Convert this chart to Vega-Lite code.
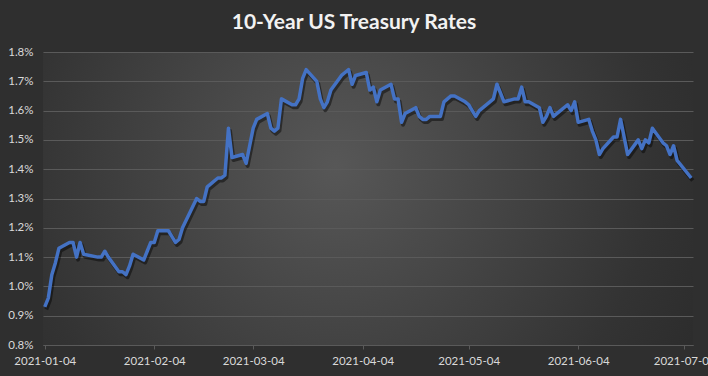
{
  "$schema": "https://vega.github.io/schema/vega-lite/v6.json",
  "width": 650,
  "height": 293,
  "autosize": {"type": "none"},
  "padding": {"left": 43, "top": 52, "right": 15, "bottom": 31},
  "background": "#2f2f2f",
  "title": {
    "text": "10-Year US Treasury Rates",
    "font": "Lato",
    "fontSize": 21,
    "fontWeight": "bold",
    "color": "#f2f2f2",
    "anchor": "middle",
    "dx": -14,
    "offset": 13
  },
  "config": {
    "view": {
      "stroke": null,
      "fill": {
        "gradient": "radial",
        "x1": 0.45, "y1": 0.45, "r1": 0,
        "x2": 0.45, "y2": 0.45, "r2": 0.75,
        "stops": [
          {"offset": 0, "color": "#575757"},
          {"offset": 0.65, "color": "#333333"},
          {"offset": 1, "color": "#262626"}
        ]
      }
    },
    "axis": {
      "labelFont": "Lato",
      "labelFontSize": 11.5,
      "labelColor": "#d9d9d9",
      "title": null
    }
  },
  "data": {
    "values": [
      {"d": "2021-01-04", "v": 0.93}, {"d": "2021-01-05", "v": 0.96}, {"d": "2021-01-06", "v": 1.04},
      {"d": "2021-01-07", "v": 1.08}, {"d": "2021-01-08", "v": 1.13}, {"d": "2021-01-11", "v": 1.15},
      {"d": "2021-01-12", "v": 1.15}, {"d": "2021-01-13", "v": 1.10}, {"d": "2021-01-14", "v": 1.15},
      {"d": "2021-01-15", "v": 1.11}, {"d": "2021-01-19", "v": 1.10}, {"d": "2021-01-20", "v": 1.10},
      {"d": "2021-01-21", "v": 1.12}, {"d": "2021-01-22", "v": 1.10}, {"d": "2021-01-25", "v": 1.05},
      {"d": "2021-01-26", "v": 1.05}, {"d": "2021-01-27", "v": 1.04}, {"d": "2021-01-28", "v": 1.07},
      {"d": "2021-01-29", "v": 1.11}, {"d": "2021-02-01", "v": 1.09}, {"d": "2021-02-02", "v": 1.12},
      {"d": "2021-02-03", "v": 1.15}, {"d": "2021-02-04", "v": 1.15}, {"d": "2021-02-05", "v": 1.19},
      {"d": "2021-02-08", "v": 1.19}, {"d": "2021-02-09", "v": 1.17}, {"d": "2021-02-10", "v": 1.15},
      {"d": "2021-02-11", "v": 1.16}, {"d": "2021-02-12", "v": 1.20}, {"d": "2021-02-16", "v": 1.30},
      {"d": "2021-02-17", "v": 1.29}, {"d": "2021-02-18", "v": 1.29}, {"d": "2021-02-19", "v": 1.34},
      {"d": "2021-02-22", "v": 1.37}, {"d": "2021-02-23", "v": 1.37}, {"d": "2021-02-24", "v": 1.38},
      {"d": "2021-02-25", "v": 1.54}, {"d": "2021-02-26", "v": 1.44}, {"d": "2021-03-01", "v": 1.45},
      {"d": "2021-03-02", "v": 1.42}, {"d": "2021-03-03", "v": 1.48}, {"d": "2021-03-04", "v": 1.54},
      {"d": "2021-03-05", "v": 1.57}, {"d": "2021-03-08", "v": 1.59}, {"d": "2021-03-09", "v": 1.54},
      {"d": "2021-03-10", "v": 1.53}, {"d": "2021-03-11", "v": 1.54}, {"d": "2021-03-12", "v": 1.64},
      {"d": "2021-03-15", "v": 1.62}, {"d": "2021-03-16", "v": 1.62}, {"d": "2021-03-17", "v": 1.64},
      {"d": "2021-03-18", "v": 1.71}, {"d": "2021-03-19", "v": 1.74}, {"d": "2021-03-22", "v": 1.70},
      {"d": "2021-03-23", "v": 1.64}, {"d": "2021-03-24", "v": 1.61}, {"d": "2021-03-25", "v": 1.63},
      {"d": "2021-03-26", "v": 1.67}, {"d": "2021-03-29", "v": 1.72}, {"d": "2021-03-30", "v": 1.73},
      {"d": "2021-03-31", "v": 1.74}, {"d": "2021-04-01", "v": 1.69}, {"d": "2021-04-02", "v": 1.72},
      {"d": "2021-04-05", "v": 1.73}, {"d": "2021-04-06", "v": 1.67}, {"d": "2021-04-07", "v": 1.68},
      {"d": "2021-04-08", "v": 1.63}, {"d": "2021-04-09", "v": 1.67}, {"d": "2021-04-12", "v": 1.69},
      {"d": "2021-04-13", "v": 1.64}, {"d": "2021-04-14", "v": 1.64}, {"d": "2021-04-15", "v": 1.56},
      {"d": "2021-04-16", "v": 1.59}, {"d": "2021-04-19", "v": 1.61}, {"d": "2021-04-20", "v": 1.58},
      {"d": "2021-04-21", "v": 1.57}, {"d": "2021-04-22", "v": 1.57}, {"d": "2021-04-23", "v": 1.58},
      {"d": "2021-04-26", "v": 1.58}, {"d": "2021-04-27", "v": 1.63}, {"d": "2021-04-28", "v": 1.64},
      {"d": "2021-04-29", "v": 1.65}, {"d": "2021-04-30", "v": 1.65}, {"d": "2021-05-03", "v": 1.63},
      {"d": "2021-05-04", "v": 1.62}, {"d": "2021-05-05", "v": 1.60}, {"d": "2021-05-06", "v": 1.58},
      {"d": "2021-05-07", "v": 1.60}, {"d": "2021-05-10", "v": 1.63}, {"d": "2021-05-11", "v": 1.64},
      {"d": "2021-05-12", "v": 1.69}, {"d": "2021-05-13", "v": 1.66}, {"d": "2021-05-14", "v": 1.63},
      {"d": "2021-05-17", "v": 1.64}, {"d": "2021-05-18", "v": 1.64}, {"d": "2021-05-19", "v": 1.68},
      {"d": "2021-05-20", "v": 1.63}, {"d": "2021-05-21", "v": 1.63}, {"d": "2021-05-24", "v": 1.61},
      {"d": "2021-05-25", "v": 1.56}, {"d": "2021-05-26", "v": 1.58}, {"d": "2021-05-27", "v": 1.61},
      {"d": "2021-05-28", "v": 1.58}, {"d": "2021-06-01", "v": 1.62}, {"d": "2021-06-02", "v": 1.60},
      {"d": "2021-06-03", "v": 1.63}, {"d": "2021-06-04", "v": 1.56}, {"d": "2021-06-07", "v": 1.57},
      {"d": "2021-06-08", "v": 1.53}, {"d": "2021-06-09", "v": 1.50}, {"d": "2021-06-10", "v": 1.45},
      {"d": "2021-06-11", "v": 1.47}, {"d": "2021-06-14", "v": 1.51}, {"d": "2021-06-15", "v": 1.51},
      {"d": "2021-06-16", "v": 1.57}, {"d": "2021-06-17", "v": 1.51}, {"d": "2021-06-18", "v": 1.45},
      {"d": "2021-06-21", "v": 1.50}, {"d": "2021-06-22", "v": 1.47}, {"d": "2021-06-23", "v": 1.50},
      {"d": "2021-06-24", "v": 1.49}, {"d": "2021-06-25", "v": 1.54}, {"d": "2021-06-28", "v": 1.49},
      {"d": "2021-06-29", "v": 1.48}, {"d": "2021-06-30", "v": 1.45}, {"d": "2021-07-01", "v": 1.48},
      {"d": "2021-07-02", "v": 1.43}, {"d": "2021-07-06", "v": 1.37}
    ]
  },
  "encoding": {
    "x": {
      "field": "d",
      "type": "temporal",
      "scale": {
        "type": "utc",
        "domain": [
          {"year": 2021, "month": 1, "date": 3, "hours": 12, "utc": true},
          {"year": 2021, "month": 7, "date": 6, "hours": 12, "utc": true}
        ]
      },
      "axis": {
        "values": [
          {"year": 2021, "month": 1, "date": 4, "utc": true},
          {"year": 2021, "month": 2, "date": 4, "utc": true},
          {"year": 2021, "month": 3, "date": 4, "utc": true},
          {"year": 2021, "month": 4, "date": 4, "utc": true},
          {"year": 2021, "month": 5, "date": 4, "utc": true},
          {"year": 2021, "month": 6, "date": 4, "utc": true},
          {"year": 2021, "month": 7, "date": 4, "utc": true}
        ],
        "labelExpr": "utcFormat(datum.value, '%Y-%m-%d')",
        "grid": false,
        "domainColor": "#5a5a5a",
        "tickColor": "#5a5a5a",
        "tickSize": 4,
        "labelPadding": 6,
        "labelOverlap": false,
        "labelFlush": false
      }
    },
    "y": {
      "field": "v",
      "type": "quantitative",
      "scale": {"domain": [0.8, 1.8], "zero": false, "nice": false},
      "axis": {
        "values": [0.8, 0.9, 1.0, 1.1, 1.2, 1.3, 1.4, 1.5, 1.6, 1.7, 1.8],
        "labelExpr": "format(datum.value, '.1f') + '%'",
        "grid": true,
        "gridColor": "#5a5a5a",
        "domain": false,
        "ticks": false,
        "labelPadding": 10
      }
    }
  },
  "layer": [
    {
      "mark": {"type": "line", "color": "#000000", "opacity": 0.45, "strokeWidth": 4, "xOffset": 1.5, "yOffset": 2.5, "strokeJoin": "round"}
    },
    {
      "mark": {"type": "line", "color": "#4472C4", "strokeWidth": 3.5, "strokeJoin": "round"}
    }
  ]
}
